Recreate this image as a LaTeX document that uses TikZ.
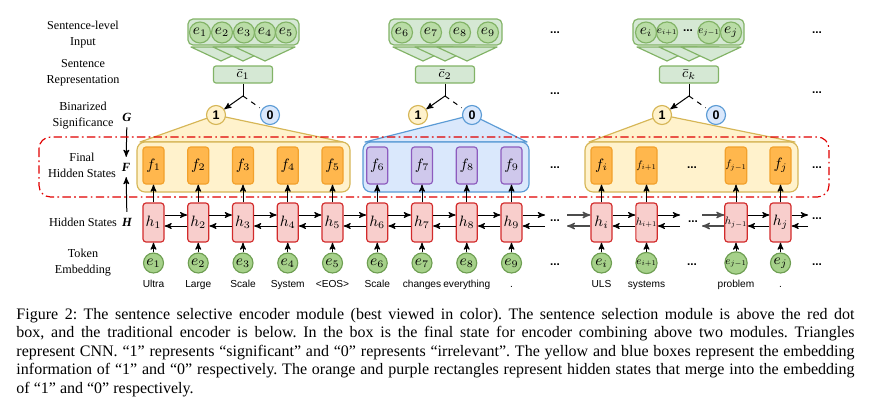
\documentclass[tikz,border=0pt]{standalone}
\usepackage{fontspec}
\usepackage{graphicx}
\setmainfont{Liberation Serif}
\setsansfont{Liberation Sans}
\usetikzlibrary{calc}
\usetikzlibrary{arrows}
\usetikzlibrary{backgrounds}

\definecolor{boxgreen}{HTML}{D5E8D4}
\definecolor{linegreen}{HTML}{82B366}
\definecolor{sentgreen}{HTML}{B9DCA6}
\definecolor{embgreen}{HTML}{A6D18A}
\definecolor{embline}{HTML}{6E9E52}
\definecolor{oneyellow}{HTML}{FFF2CC}
\definecolor{oneline}{HTML}{D6B656}
\definecolor{zeroblue}{HTML}{DAE8FC}
\definecolor{zeroline}{HTML}{5B9BD5}
\definecolor{fillorange}{HTML}{FFB74D}
\definecolor{lineorange}{HTML}{F2A12C}
\definecolor{fillpurple}{HTML}{CFC8EC}
\definecolor{linepurple}{HTML}{8D5BBE}
\definecolor{hidfill}{HTML}{F8CECC}
\definecolor{hidline}{HTML}{D22B2B}
\definecolor{dotred}{HTML}{E00000}

\newcommand{\sublbl}[1]{\scalebox{0.72}{$#1$}}

\begin{document}
\begin{tikzpicture}[x=0.6pt, y=-0.6pt, line width=0.6pt, >=stealth',
  lbl/.style={font=\fontsize{7.3}{9.6}\selectfont, align=center},
  symnode/.style={font=\fontsize{7.5}{9}\selectfont\bfseries\itshape},
  wordnode/.style={anchor=base, font=\fontsize{6.1}{7}\selectfont\sffamily},
  dotsnode/.style={font=\fontsize{7}{8}\selectfont\sffamily\bfseries},
  hidbox/.style={draw=hidline, fill=hidfill, line width=0.7pt, rounded corners=1.8pt, minimum width=12.6pt, minimum height=23.4pt, inner sep=0pt, font=\fontsize{9}{10}\selectfont},
  finone/.style={draw=lineorange, fill=fillorange, line width=0.7pt, rounded corners=1.8pt, minimum width=12.6pt, minimum height=22.2pt, inner sep=0pt, font=\fontsize{9}{10}\selectfont},
  finzero/.style={finone, draw=linepurple, fill=fillpurple},
  embnode/.style={circle, draw=embline, fill=embgreen, line width=0.7pt, minimum size=12pt, inner sep=0pt, font=\fontsize{9}{10}\selectfont},
  sentnode/.style={embnode, draw=linegreen, fill=sentgreen, minimum size=12.6pt},
  repbox/.style={draw=linegreen, fill=boxgreen, line width=0.7pt, rounded corners=1.5pt, minimum width=35.4pt, minimum height=10.2pt, inner sep=0pt, font=\fontsize{8}{9}\selectfont},
  onenode/.style={circle, draw=oneline, fill=oneyellow, line width=0.7pt, minimum size=11.4pt, inner sep=0pt, font=\fontsize{7.5}{8}\selectfont\sffamily\bfseries},
  zeronode/.style={onenode, draw=zeroline, fill=zeroblue},
  cnn/.style={draw=linegreen, fill=boxgreen, line width=0.7pt, line join=round},
  openend/.style={->, black!70, line width=0.75pt}
]
\useasboundingbox (0,0) rectangle (876,416);

% left labels
\node[lbl] (lblin) at (83,35) {Sentence-level\\Input};
\node[lbl] (lblrep) at (83,73) {Sentence\\Representation};
\node[lbl] (lblbin) at (83,116) {Binarized\\Significance};
\node[lbl] (lblfin) at (82,165) {Final\\Hidden States};
\node[lbl] (lblhid) at (83,222) {Hidden States};
\node[lbl] (lbltok) at (83,262.5) {Token\\Embedding};
\node[symnode] (G) at (127,117) {G};
\node[symnode] (F) at (126,167) {F};
\node[symnode] (H) at (127,222) {H};
\draw[->] (G) -- (F);
\draw[->] (H) -- (F);

% sentence-level input and CNN
\draw[draw=linegreen, fill=boxgreen, line width=0.7pt, rounded corners=3pt] (188,19) rectangle (299,45);
\draw[draw=linegreen, fill=boxgreen, line width=0.7pt, rounded corners=3pt] (389,19) rectangle (502,45);
\draw[draw=linegreen, fill=boxgreen, line width=0.7pt, rounded corners=3pt] (633,19) rectangle (744,45);
\foreach \k/\x in {1/200,2/222,3/244,4/265,5/286,6/402,7/431,8/460,9/488}
  \node[sentnode] (s\k) at (\x,32.5) {$e_{\k}$};
\node[sentnode] (si) at (646,32.5) {$e_i$};
\node[sentnode] (sii) at (667,32.5) {\sublbl{e_{i+1}}};
\node[dotsnode] (sdots) at (688,31) {...};
\node[sentnode] (sjj) at (709,32.5) {\sublbl{e_{j-1}}};
\node[sentnode] (sj) at (731,32.5) {$e_j$};
\foreach \g in {243,445,689}
  \foreach \d in {-22,0,22}
    \draw[cnn] ({\g+\d-30},47) -- ({\g+\d+30},47) -- ({\g+\d},61) -- cycle;

% sentence representation and binarized significance
\foreach \n/\g/\c in {1/243/1, 2/445/2, 3/689/k} {
  \node[repbox] (c\n) at (\g,74.5) {$\bar{c}_{\c}$};
  \coordinate (j\n) at (\g,96);
  \node[onenode] (one\n) at ({\g-27},115) {1};
  \node[zeronode] (zero\n) at ({\g+27},115) {0};
  \draw (c\n) -- (j\n);
  \draw[->] (j\n) -- (one\n);
  \draw[dashed, shorten >=1.5pt] (j\n) -- (zero\n);
}

% embedding boxes of 1 and 0
\begin{scope}[on background layer]
\draw[draw=oneline, fill=oneyellow, line width=0.7pt, line join=round] (one1.center) -- (140,142) -- (343,142) -- cycle;
\draw[draw=zeroline, fill=zeroblue, line width=0.7pt, line join=round] (zero2.center) -- (365,142) -- (527,142) -- cycle;
\draw[draw=oneline, fill=oneyellow, line width=0.7pt, line join=round] (one3.center) -- (589,142) -- (795,142) -- cycle;
\draw[draw=oneline, fill=oneyellow, line width=0.7pt, rounded corners=4.8pt] (137,142) rectangle (350,192);
\draw[draw=zeroline, fill=zeroblue, line width=0.7pt, rounded corners=4.8pt] (363,142) rectangle (529,192);
\draw[draw=oneline, fill=oneyellow, line width=0.7pt, rounded corners=4.8pt] (585,142) rectangle (798,192);
\end{scope}
\draw[dotred, line width=0.7pt, rounded corners=7pt, dash pattern=on 5pt off 2pt on 1pt off 2pt] (39,137) rectangle (829,197);

% encoder
\foreach \k/\w in {1/Ultra, 2/Large, 3/Scale, 4/System, 5/{<EOS>}, 6/Scale, 7/changes, 8/everything, 9/.} {
  \pgfmathsetmacro\xk{153.5+44.75*(\k-1)}
  \node[hidbox] (h\k) at (\xk,222.5) {$h_{\k}$};
  \node[embnode] (e\k) at (\xk,263) {$e_{\k}$};
  \node[wordnode] (w\k) at (\xk,287.5) {\w};
  \draw[->] (e\k) -- (h\k);
}
\foreach \k in {1,...,5}
  \node[finone] (f\k) at ({153.5+44.75*(\k-1)},165.5) {$f_{\k}$};
\foreach \k in {6,...,9}
  \node[finzero] (f\k) at ({153.5+44.75*(\k-1)},165.5) {$f_{\k}$};
\foreach \k in {1,...,9}
  \draw[->] (h\k) -- (f\k);
\foreach \k in {1,...,8} {
  \pgfmathtruncatemacro\n{\k+1}
  \draw[->] ($(h\k.east)+(0,-7.5)$) -- ($(h\n.west)+(0,-7.5)$);
  \draw[->] ($(h\n.west)+(0,3.5)$) -- ($(h\k.east)+(0,3.5)$);
}

\foreach \n/\x/\hl/\el/\fl/\w in {i/601.5/{$h_i$}/{$e_i$}/{$f_i$}/ULS, ii/646.5/{\sublbl{h_{i+1}}}/{\sublbl{e_{i+1}}}/{\sublbl{f_{i+1}}}/systems, jj/736/{\sublbl{h_{j-1}}}/{\sublbl{e_{j-1}}}/{\sublbl{f_{j-1}}}/problem, j/780.5/{$h_j$}/{$e_j$}/{$f_j$}/.} {
  \node[hidbox] (h\n) at (\x,222.5) {\hl};
  \node[embnode] (e\n) at (\x,263) {\el};
  \node[finone] (f\n) at (\x,165.5) {\fl};
  \node[wordnode] (w\n) at (\x,287.5) {\w};
  \draw[->] (e\n) -- (h\n);
  \draw[->] (h\n) -- (f\n);
}
\draw[->] ($(hi.east)+(0,-7.5)$) -- ($(hii.west)+(0,-7.5)$);
\draw[->] ($(hii.west)+(0,3.5)$) -- ($(hi.east)+(0,3.5)$);
\draw[->] ($(hjj.east)+(0,-7.5)$) -- ($(hj.west)+(0,-7.5)$);
\draw[->] ($(hj.west)+(0,3.5)$) -- ($(hjj.east)+(0,3.5)$);

% open ends of the chain
\coordinate (o9a) at (545,215);   \coordinate (o9b) at (545,226);
\coordinate (oia) at (567,215);   \coordinate (oib) at (567,226);
\coordinate (oiia) at (680,215);  \coordinate (oiib) at (680,226);
\coordinate (ojja) at (702,215);  \coordinate (ojjb) at (702,226);
\coordinate (oja) at (808,215);   \coordinate (ojb) at (808,226);
\draw[->] ($(h9.east)+(0,-7.5)$) -- (o9a);
\draw[->] (o9b) -- ($(h9.east)+(0,3.5)$);
\draw[openend] (oia) -- ($(hi.west)+(0,-7.5)$);
\draw[openend] ($(hi.west)+(0,3.5)$) -- (oib);
\draw[->] ($(hii.east)+(0,-7.5)$) -- (oiia);
\draw[->] (oiib) -- ($(hii.east)+(0,3.5)$);
\draw[openend] (ojja) -- ($(hjj.west)+(0,-7.5)$);
\draw[openend] ($(hjj.west)+(0,3.5)$) -- (ojjb);
\draw[->] ($(hj.east)+(0,-7.5)$) -- (oja);
\draw[->] (ojb) -- ($(hj.east)+(0,3.5)$);

% ellipses
\foreach \x/\y in {555/33, 555/94, 817/33, 817/93, 555/168, 555/221, 555/265, 692/168, 693/222, 692/265, 817/168, 817/219, 817/265}
  \node[dotsnode] at (\x,\y) {...};

% caption
\node[anchor=north west, inner sep=0pt, text width=502.8pt, align=justify, font=\fontsize{9.6}{11.1}\selectfont] (caption) at (16,307.5) {\frenchspacing Figure 2: The sentence selective encoder module (best viewed in color). The sentence selection module is above the red dot\linebreak
box, and the traditional encoder is below. In the box is the final state for encoder combining above two modules. Triangles\linebreak
represent CNN. ``1'' represents ``significant'' and ``0'' represents ``irrelevant''. The yellow and blue boxes represent the embedding\linebreak
information of ``1'' and ``0'' respectively. The orange and purple rectangles represent hidden states that merge into the embedding\linebreak
of ``1'' and ``0'' respectively.};
\end{tikzpicture}
\end{document}
